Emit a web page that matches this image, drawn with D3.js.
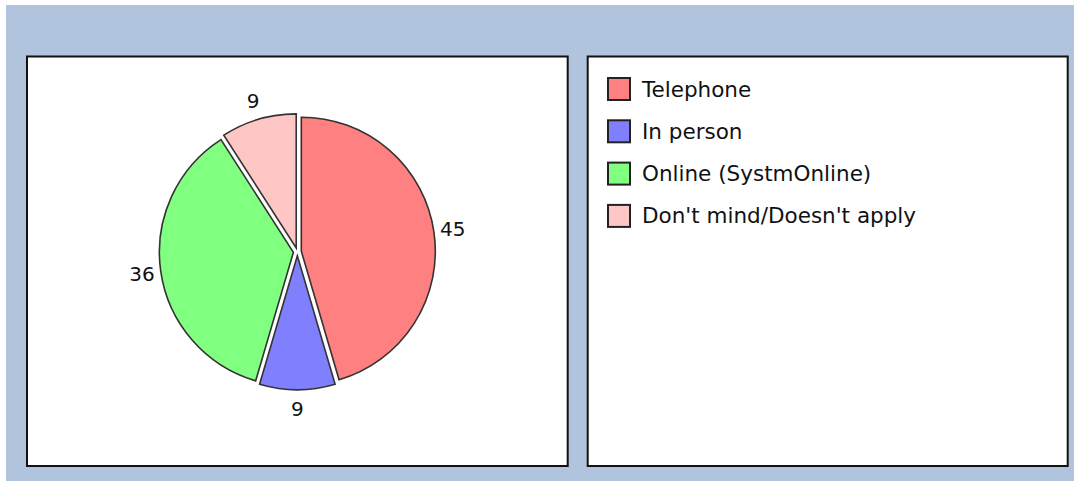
<!DOCTYPE html>
<html>
<head>
<meta charset="utf-8">
<script src="https://cdn.jsdelivr.net/npm/d3@7/dist/d3.min.js"></script>
<style>
  html, body { margin: 0; padding: 0; background: #ffffff; }
  svg { display: block; }
  text { font-family: "DejaVu Sans", sans-serif; fill: #111; }
</style>
</head>
<body>
<svg id="chart" width="1074" height="481"></svg>
<script>
// Contact preference survey: share of responses per option
const categories = ["Telephone", "In person", "Online (SystmOnline)", "Don't mind/Doesn't apply"];
const values = [45, 9, 36, 9];
const colors = ["#ff8080", "#8080ff", "#80ff80", "#ffc6c6"];

const W = 1074, H = 481;
const svg = d3.select("#chart");

// page background
svg.append("rect").attr("x", 6).attr("y", 5).attr("width", W - 6).attr("height", H - 5)
  .attr("fill", "#b0c4de");

// panels
const plotPanel = { x: 27, y: 56.5, w: 540.7, h: 409.5 };
const legendPanel = { x: 587.7, y: 56.5, w: 480, h: 409.5 };
[plotPanel, legendPanel].forEach(p => {
  svg.append("rect").attr("x", p.x).attr("y", p.y).attr("width", p.w).attr("height", p.h)
    .attr("fill", "#ffffff").attr("stroke", "#111").attr("stroke-width", 2);
});

// pie
const cx = plotPanel.x + plotPanel.w / 2;
const cy = plotPanel.y + plotPanel.h / 2 - 9.5;
const radius = 134;
const explode = 4;
const labelRadius = 157;

const pie = d3.pie().sort(null).value(d => d)(values);
const arc = d3.arc().innerRadius(0).outerRadius(radius);

const g = svg.append("g").attr("transform", `translate(${cx},${cy})`);

g.selectAll("path.slice").data(pie).join("path")
  .attr("class", "slice")
  .attr("transform", d => {
    const m = (d.startAngle + d.endAngle) / 2;
    return `translate(${Math.sin(m) * explode},${-Math.cos(m) * explode})`;
  })
  .attr("d", arc)
  .attr("fill", (d, i) => colors[i])
  .attr("stroke", "#333")
  .attr("stroke-width", 1.6)
  .attr("stroke-linejoin", "miter");

g.selectAll("text.value").data(pie).join("text")
  .attr("class", "value")
  .attr("x", d => Math.sin((d.startAngle + d.endAngle) / 2) * labelRadius)
  .attr("y", d => -Math.cos((d.startAngle + d.endAngle) / 2) * labelRadius)
  .attr("text-anchor", "middle")
  .attr("dominant-baseline", "central")
  .attr("font-size", 20)
  .text(d => d.data);

// legend
const legendX = 607;
const legendY0 = 89;
const rowGap = 42.3;
const sw = 24;
const lg = svg.append("g");
categories.forEach((c, i) => {
  const y = legendY0 + i * rowGap;
  lg.append("rect").attr("x", legendX + 1).attr("y", y - sw / 2 + 1)
    .attr("width", sw - 2).attr("height", sw - 2)
    .attr("fill", colors[i]).attr("stroke", "#222").attr("stroke-width", 2);
  lg.append("text").attr("x", legendX + 35).attr("y", y)
    .attr("dominant-baseline", "central")
    .attr("font-size", 21.5)
    .text(c);
});
</script>
</body>
</html>
